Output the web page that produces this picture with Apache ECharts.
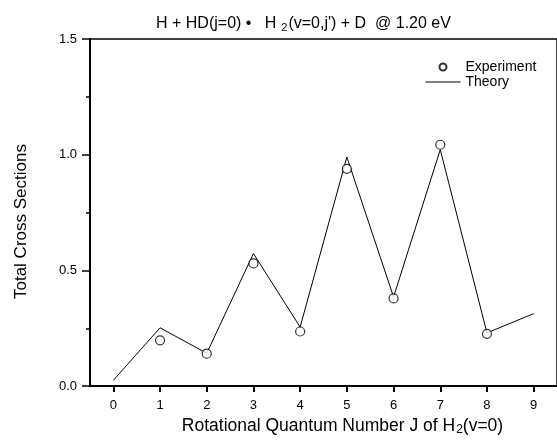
<!DOCTYPE html>
<html>
<head>
<meta charset="utf-8">
<script src="https://cdn.jsdelivr.net/npm/echarts@6/dist/echarts.min.js"></script>
<style>
html,body{margin:0;padding:0;background:#fff;}
#chart{width:557px;height:441px;}
</style>
</head>
<body>
<div id="chart"></div>
<script>
var categories = ['0','1','2','3','4','5','6','7','8','9'];
var theory = [0.025, 0.252, 0.142, 0.573, 0.255, 0.990, 0.385, 1.022, 0.230, 0.313];
var experiment = [null, 0.198, 0.140, 0.530, 0.236, 0.939, 0.379, 1.043, 0.226, null];
var yTicks = [0, 0.5, 1.0, 1.5];

var FONT = 'Liberation Sans, Arial, sans-serif';
var chart = echarts.init(document.getElementById('chart'), null, {renderer: 'canvas'});
chart.setOption({
  backgroundColor: '#fff',
  animation: false,
  title: {
    text: 'H + HD(j=0) \u2022   H{sub|2}(v=0,j\') + D  @ 1.20 eV',
    left: 156,
    top: 14,
    padding: 0,
    textStyle: {
      fontFamily: FONT, fontSize: 16, fontWeight: 'normal', color: '#000',
      rich: {
        sub: {fontFamily: FONT, fontSize: 11, color: '#000', verticalAlign: 'bottom', padding: [8, 1, 0, 5]}
      }
    }
  },
  legend: {
    orient: 'vertical',
    left: 425,
    top: 60,
    padding: 0,
    itemWidth: 35,
    itemHeight: 7,
    itemGap: 1,
    textStyle: {fontFamily: FONT, fontSize: 14, color: '#000'},
    data: [
      {name: 'Experiment'},
      {name: 'Theory', itemStyle: {opacity: 0}, lineStyle: {color: '#000', width: 1}}
    ]
  },
  grid: {
    left: 90, top: 39, width: 479, height: 348,
    show: true, borderColor: '#000', borderWidth: 1.5, backgroundColor: 'transparent'
  },
  xAxis: {
    type: 'category',
    data: categories,
    boundaryGap: true,
    name: 'Rotational Quantum Number J of H{sub|2}(v=0)',
    nameLocation: 'middle',
    nameGap: 28,
    nameTextStyle: {
      fontFamily: FONT, fontSize: 17.5, color: '#000', padding: [0, 0, 0, 38],
      rich: {sub: {fontFamily: FONT, fontSize: 12, color: '#000', verticalAlign: 'bottom', padding: [8, 0, 0, 1]}}
    },
    axisLine: {show: true, lineStyle: {color: '#000', width: 2}},
    axisTick: {show: true, alignWithLabel: true, inside: false, length: 6, lineStyle: {color: '#000', width: 2}},
    axisLabel: {fontFamily: FONT, fontSize: 13, color: '#000', margin: 13},
    splitLine: {show: false}
  },
  yAxis: {
    type: 'value',
    min: 0, max: 1.5, interval: 0.5,
    name: 'Total Cross Sections',
    nameLocation: 'middle',
    nameGap: 60,
    nameTextStyle: {fontFamily: FONT, fontSize: 17, color: '#000', padding: [0, 18, 0, 0]},
    axisLine: {show: true, lineStyle: {color: '#000', width: 2}},
    axisTick: {show: true, inside: false, length: 8, lineStyle: {color: '#000', width: 1.5}},
    minorTick: {show: true, splitNumber: 2, length: 4, lineStyle: {color: '#000', width: 1.5}},
    axisLabel: {
      fontFamily: FONT, fontSize: 13, color: '#000', margin: 13,
      formatter: function (v) { return yTicks.indexOf(v) >= 0 ? v.toFixed(1) : ''; }
    },
    splitLine: {show: false}
  },
  series: [
    {
      name: 'Theory',
      type: 'line',
      data: theory,
      symbol: 'none',
      lineStyle: {color: '#000', width: 1},
      itemStyle: {color: '#000'},
      z: 2
    },
    {
      name: 'Experiment',
      type: 'scatter',
      data: experiment,
      symbol: 'circle',
      symbolSize: 9,
      itemStyle: {color: '#fff', borderColor: '#000', borderWidth: 1.2},
      z: 3
    }
  ]
});
</script>
</body>
</html>
